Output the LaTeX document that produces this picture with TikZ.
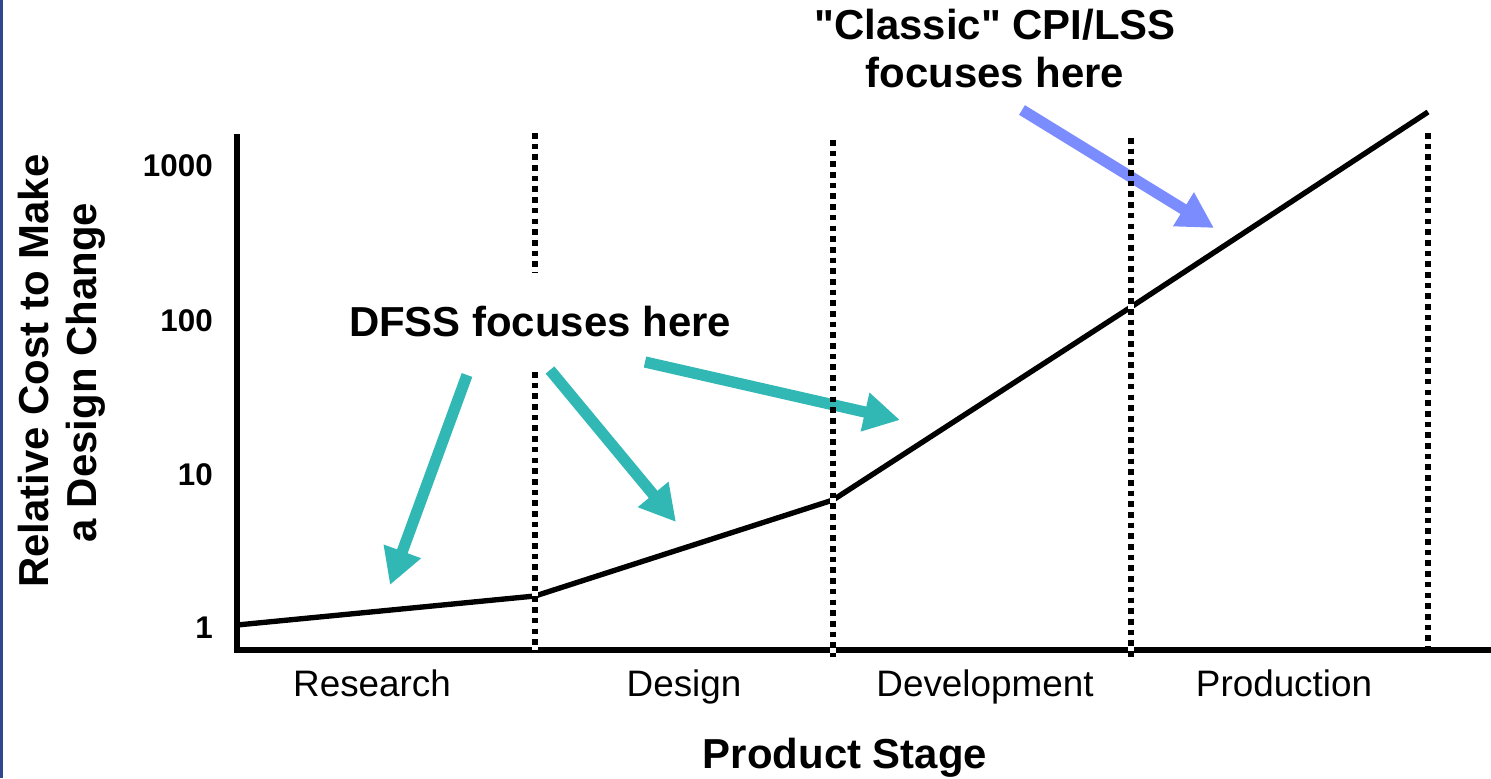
\documentclass[tikz,border=0pt]{standalone}
\usepackage{fontspec}
\setmainfont{Liberation Sans}
\usetikzlibrary{arrows.meta}
\definecolor{dfssteal}{RGB}{49,184,180}
\definecolor{lssblue}{RGB}{123,140,255}
\definecolor{frameblue}{RGB}{47,69,140}
\tikzset{
  focusarrow/.style={line width=8pt, -{Triangle[width=26.5pt,length=25.5pt]}},
  stagedots/.style={line width=4.2pt, dash pattern=on 4pt off 3.6pt},
  stagegap/.style={white, line width=4.2pt},
  boldtext/.style={font=\bfseries\fontsize{29.8}{35.8}\selectfont, inner sep=0pt, anchor=base},
  ticktext/.style={font=\bfseries\fontsize{22.3}{26}\selectfont, inner sep=0pt, anchor=base east},
  stagetext/.style={font=\fontsize{26.2}{31}\selectfont, inner sep=0pt, anchor=base},
}
\begin{document}
\begin{tikzpicture}[x=0.025cm, y=-0.025cm]
  \useasboundingbox (0,0) rectangle (1491,778);
  \fill[frameblue] (0,0) rectangle (3,778);
  % axes and cost curve
  \coordinate (ytop) at (237,134);
  \coordinate (origin) at (237,650);
  \coordinate (xend) at (1491,650);
  \draw[line width=4.2pt, line join=miter] (ytop) -- (origin) -- (xend);
  \coordinate (c0) at (237,625);
  \coordinate (c1) at (535,596);
  \coordinate (c2) at (833,500);
  \coordinate (c3) at (1131,307);
  \coordinate (c4) at (1428,112);
  \draw[line width=3.8pt, line join=miter] (c0) -- (c1) -- (c2) -- (c3) -- (c4);
  % stage borders
  \foreach \xx/\ya/\yb in {535/133/272, 535/372/650, 833/140/657, 1131/138/657, 1428/133/650} {
    \draw[stagegap] (\xx,\ya) -- (\xx,\yb);
    \draw[stagedots] (\xx,\ya) -- (\xx,\yb);
  }
  % arrows
  \coordinate (resA) at (467,375);
  \coordinate (resB) at (390,585);
  \coordinate (desA) at (550,370);
  \coordinate (desB) at (676,522);
  \coordinate (devA) at (645,362);
  \coordinate (devB) at (900,420);
  \coordinate (prodA) at (1022,110);
  \coordinate (prodB) at (1214,228);
  \draw[focusarrow, dfssteal] (resA) -- (resB);
  \draw[focusarrow, dfssteal] (desA) -- (desB);
  \draw[focusarrow, dfssteal] (devA) -- (devB);
  \draw[focusarrow, lssblue] (prodA) -- (prodB);
  \foreach \xx/\ya/\yb in {833/140/657, 1131/138/657} {
    \draw[stagedots] (\xx,\ya) -- (\xx,\yb);
  }
  % labels
  \node[boldtext] (dfss) at (540,336) {DFSS focuses here};
  \node[boldtext] (lss1) at (995,39) {\textquotedbl Classic\textquotedbl{} CPI/LSS};
  \node[boldtext] (lss2) at (995,87) {focuses here};
  \node[boldtext, rotate=90] (ylab1) at (48,371) {Relative Cost to Make};
  \node[boldtext, rotate=90] (ylab2) at (96,373) {a Design Change};
  \node[boldtext] (xlab) at (845,768) {Product Stage};
  \node[ticktext] (t1000) at (213,176) {1000};
  \node[ticktext] (t100) at (213,331) {100};
  \node[ticktext] (t10) at (213,485) {10};
  \node[ticktext] (t1) at (213,638) {1};
  \node[stagetext] (research) at (372,696) {Research};
  \node[stagetext] (design) at (684,696) {Design};
  \node[stagetext] (develop) at (985,696) {Development};
  \node[stagetext] (product) at (1284,696) {Production};
\end{tikzpicture}
\end{document}
